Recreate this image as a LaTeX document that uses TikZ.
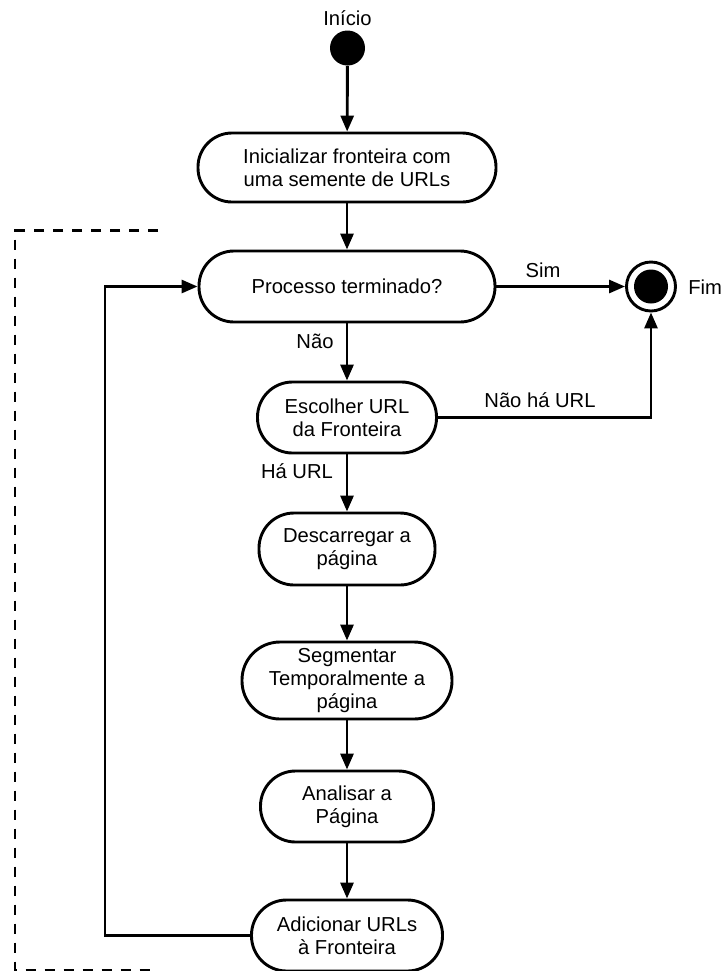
\documentclass[tikz,border=0pt]{standalone}
\usepackage{fontspec}
\setmainfont{Liberation Sans}
\usetikzlibrary{arrows.meta}
\begin{document}
\begin{tikzpicture}[x=0.5pt,y=-0.5pt,
  every node/.style={font=\fontsize{10.1}{11.6}\selectfont, inner sep=0pt},
  activity/.style={draw, line width=1.45pt, align=center},
  flow/.style={line width=1.45pt, -{Triangle[length=8pt,width=6.5pt]}},
  frame/.style={line width=1.2pt, dash pattern=on 5.25pt off 4.25pt},
  lbl/.style={anchor=base}]
  \useasboundingbox (0,0) rectangle (726,971);

  % initial and final states
  \node[circle, fill, minimum size=17.5pt] (start) at (347.5,48) {};
  \node[circle, draw, line width=1.45pt, minimum size=24.5pt] (fim) at (651,286.5) {};
  \node[circle, fill, minimum size=17pt] (fimdot) at (fim.center) {};

  % activities
  \node[activity, minimum width=149pt, minimum height=34.5pt, rounded corners=17pt]
    (init) at (347,167.5) {Inicializar fronteira com\\uma semente de URLs};
  \node[activity, minimum width=148pt, minimum height=35.5pt, rounded corners=17.5pt]
    (proc) at (347,286.5) {Processo terminado?};
  \node[activity, minimum width=89.5pt, minimum height=35.5pt, rounded corners=17.5pt]
    (esc) at (347,417.5) {Escolher URL\\da Fronteira};
  \node[activity, minimum width=88pt, minimum height=36pt, rounded corners=17.5pt]
    (desc) at (347,549) {Descarregar a\\página};
  \node[activity, minimum width=105pt, minimum height=38.5pt, rounded corners=19pt]
    (seg) at (347,680.5) {Segmentar\\Temporalmente a\\página};
  \node[activity, minimum width=86.5pt, minimum height=35.5pt, rounded corners=17.5pt]
    (anal) at (347,806.5) {Analisar a\\Página};
  \node[activity, minimum width=95.5pt, minimum height=35.5pt, rounded corners=17.5pt]
    (add) at (347,935.5) {Adicionar URLs\\à Fronteira};

  % labels
  \node[lbl] (tinicio) at (347.5,25) {Início};
  \node[anchor=base west] (tfim) at (688,294) {Fim};
  \node[lbl] (tsim) at (543,277) {Sim};
  \node[lbl] (tnao) at (315,348) {Não};
  \node[lbl] (tnaoha) at (540,407) {Não há URL};
  \node[lbl] (tha) at (297,478) {Há URL};

  % control flow
  \coordinate (loop) at (105,0);
  \draw[flow] (start) -- (init);
  \draw[flow] (init) -- (proc);
  \draw[flow] (proc.east) -- (fim.west);
  \draw[flow] (proc) -- (esc);
  \draw[flow] (esc.east) -| (fim.south);
  \draw[flow] (esc) -- (desc);
  \draw[flow] (desc) -- (seg);
  \draw[flow] (seg) -- (anal);
  \draw[flow] (anal) -- (add);
  \draw[flow] (add.west) -- (add.west -| loop) |- (proc.west);

  % dashed enclosing frame
  \draw[frame] (158,230.5) -- (15,230.5) -- (15,970) -- (158,970);
\end{tikzpicture}
\end{document}
